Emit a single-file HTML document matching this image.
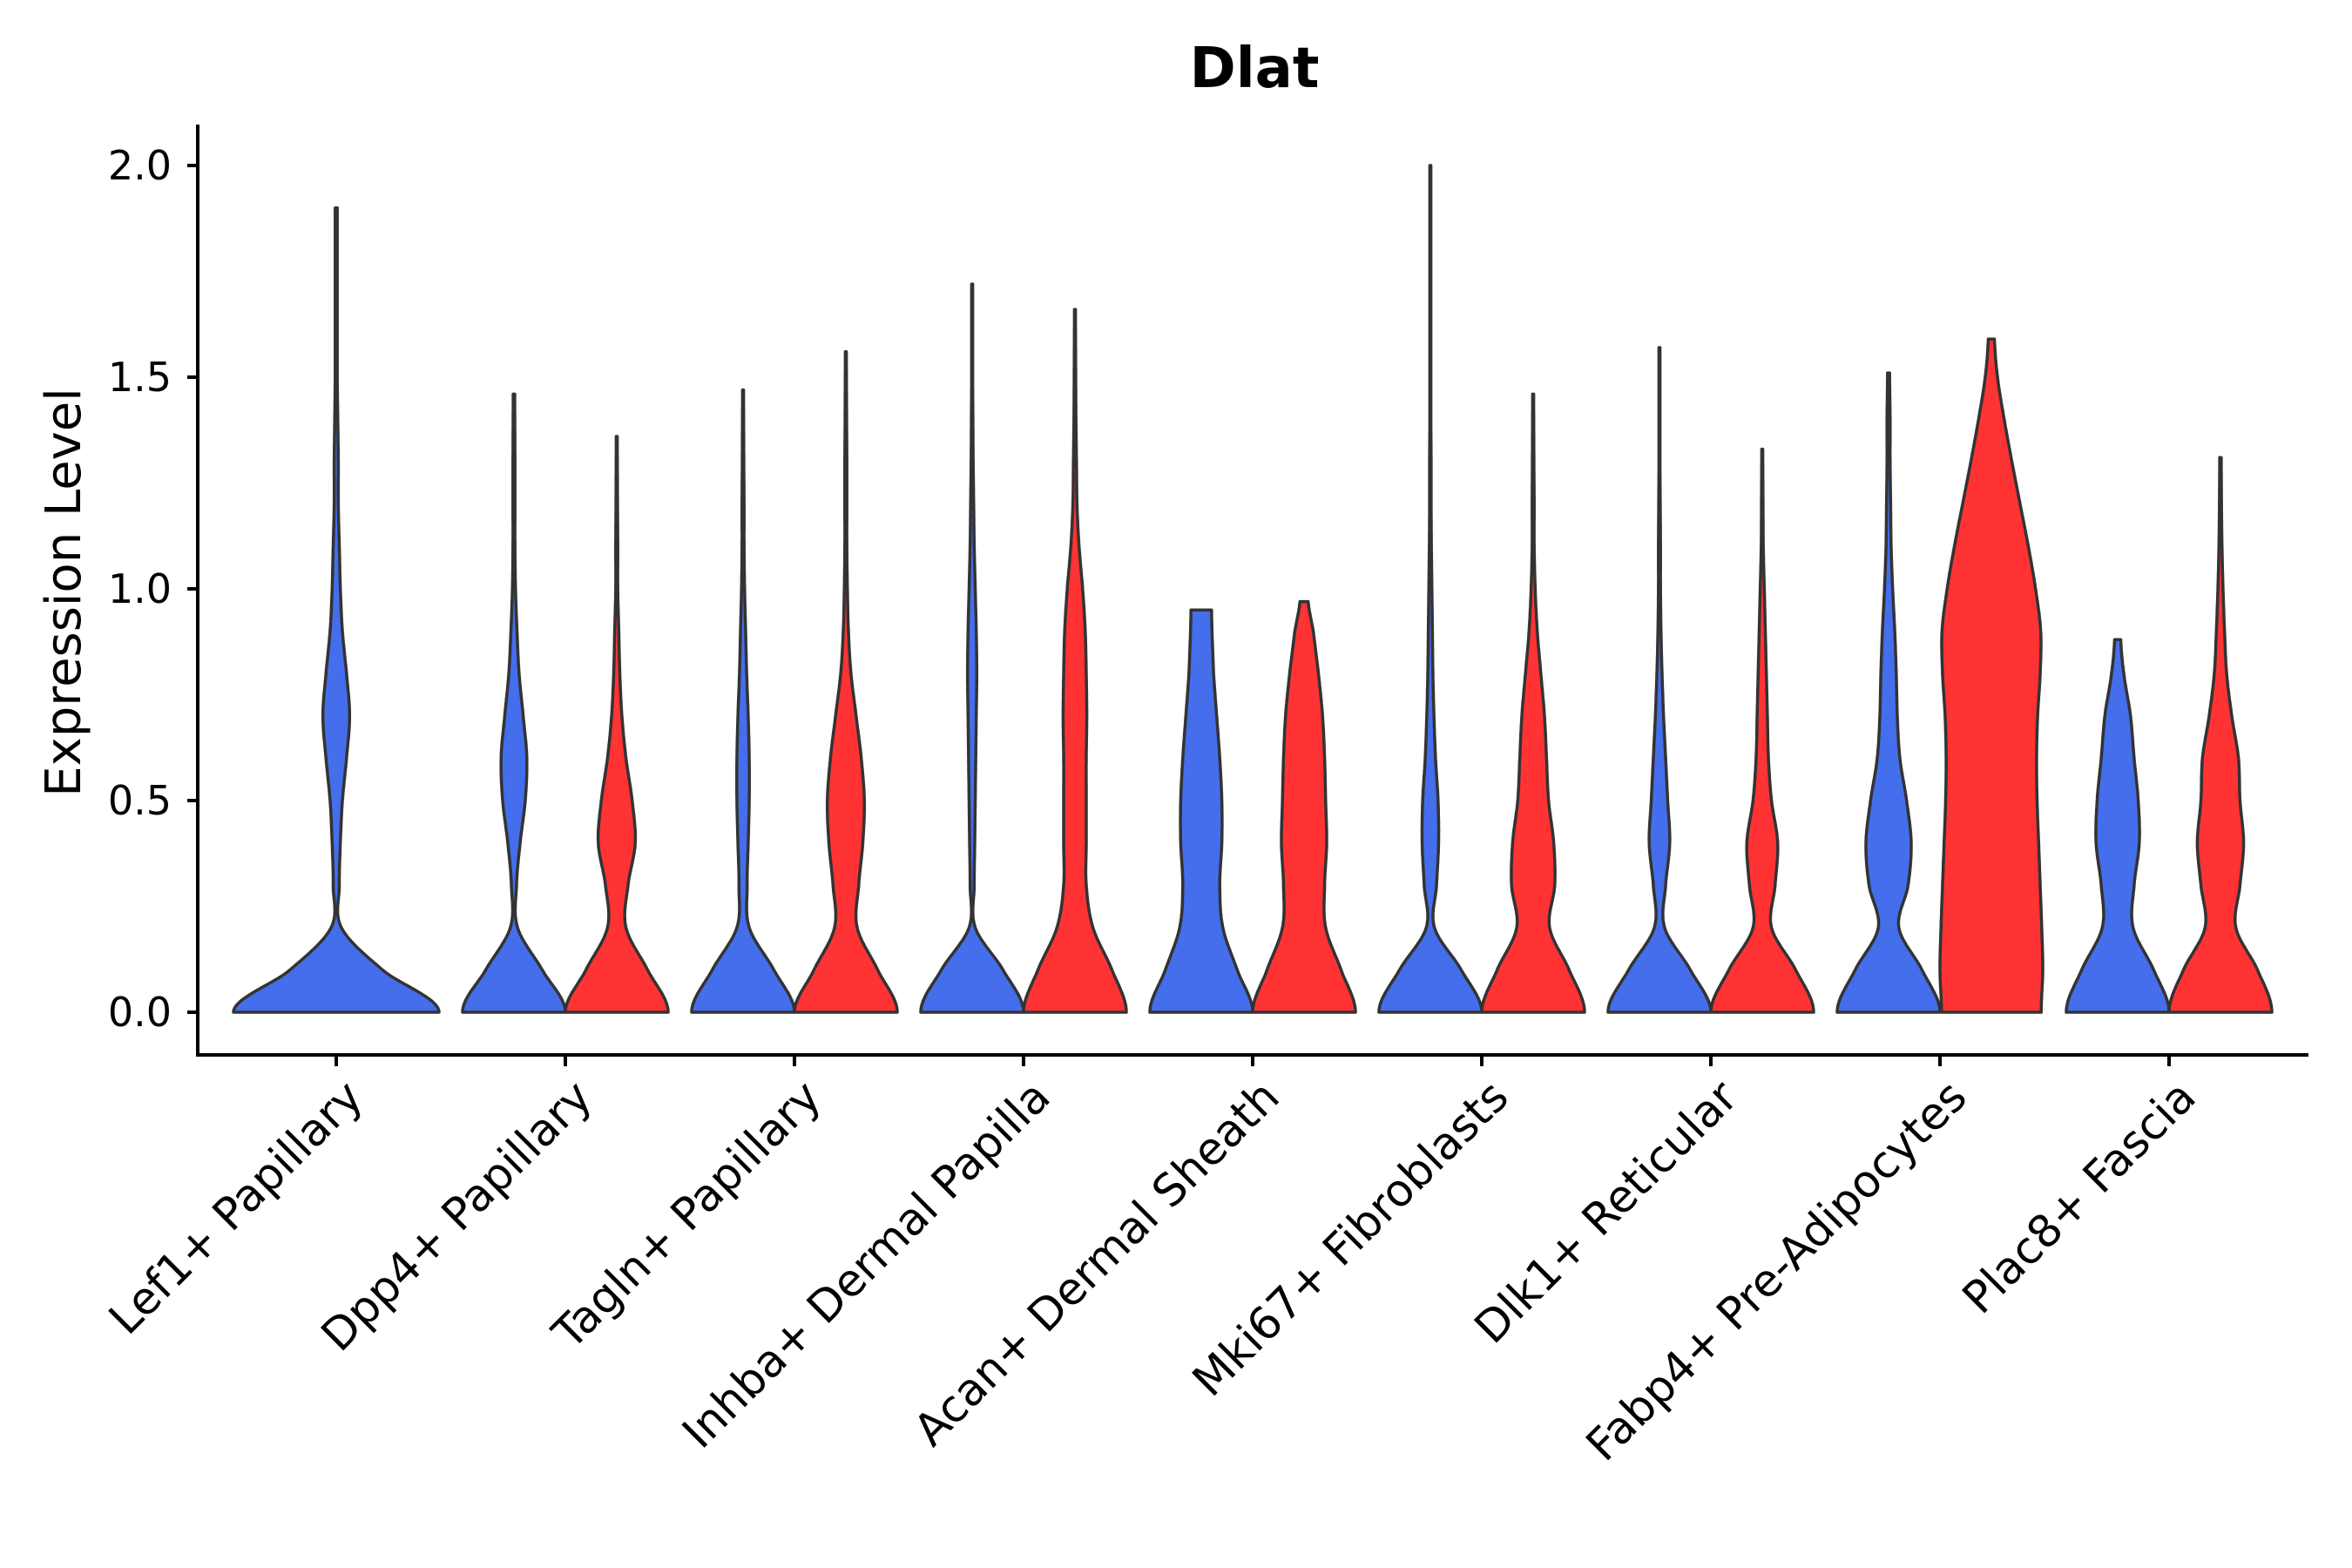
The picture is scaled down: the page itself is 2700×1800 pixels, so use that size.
<!DOCTYPE html>
<html><head><meta charset="utf-8"><style>
html,body{margin:0;padding:0;background:#fff;}
svg{display:block;font-family:"DejaVu Sans","Liberation Sans",sans-serif;}
</style></head><body>
<svg id="chart" width="2700" height="1800" viewBox="0 0 2700 1800">
<text x="1440" y="100" text-anchor="middle" font-size="64" font-weight="bold">Dlat</text>
<text transform="translate(92,680) rotate(-90)" text-anchor="middle" font-size="56">Expression Level</text>
<g id="violins"></g>
<g id="axes"></g>
</svg>
<script>
const categories = ["Lef1+ Papillary","Dpp4+ Papillary","Tagln+ Papillary","Inhba+ Dermal Papilla","Acan+ Dermal Sheath","Mki67+ Fibroblasts","Dlk1+ Reticular","Fabp4+ Pre-Adipocytes","Plac8+ Fascia"];
const yTicks = [0, 0.5, 1.0, 1.5, 2.0];
const yTickLabels = ["0.0","0.5","1.0","1.5","2.0"];
// max expression per violin (blue / red); null = group absent
const blueMax = [1.90, 1.46, 1.47, 1.72, 0.95, 2.00, 1.57, 1.51, 0.88];
const redMax  = [null, 1.36, 1.56, 1.66, 0.97, 1.46, 1.33, 1.59, 1.31];
// density width profiles (fraction of max width) sampled every 0.1, last entry at max
const blueDensity = [
 [1,0.45,0.05,0.03,0.04,0.06,0.10,0.13,0.10,0.06,0.04,0.03,0.02,0.02,0.015,0.01,0.01,0.01,0.01,0.01],
 [1,0.55,0.07,0.05,0.12,0.22,0.25,0.18,0.10,0.06,0.03,0.02,0.02,0.02,0.015],
 [1,0.6,0.12,0.08,0.10,0.12,0.12,0.10,0.07,0.05,0.03,0.02,0.02,0.015,0.01],
 [1,0.6,0.06,0.04,0.05,0.06,0.07,0.08,0.09,0.08,0.06,0.04,0.03,0.02,0.015,0.01,0.01,0.01],
 [1,0.7,0.42,0.36,0.40,0.40,0.36,0.30,0.24,0.20],
 [1,0.6,0.08,0.12,0.16,0.15,0.10,0.07,0.05,0.04,0.03,0.02,0.015,0.015,0.01,0.01,0.01,0.01,0.01,0.01,0.01],
 [1,0.6,0.10,0.12,0.20,0.16,0.12,0.08,0.05,0.03,0.02,0.02,0.015,0.01,0.01,0.01],
 [1,0.65,0.20,0.38,0.44,0.35,0.22,0.17,0.15,0.12,0.08,0.05,0.04,0.03,0.03,0.02],
 [1,0.7,0.30,0.32,0.42,0.40,0.32,0.25,0.12,0.06]
];
const redDensity = [
 null,
 [1,0.6,0.18,0.22,0.36,0.30,0.18,0.10,0.06,0.04,0.02,0.02,0.015,0.01],
 [1,0.62,0.22,0.25,0.33,0.36,0.30,0.20,0.10,0.05,0.03,0.02,0.02,0.02,0.015,0.01],
 [1,0.72,0.35,0.22,0.22,0.22,0.22,0.23,0.22,0.20,0.15,0.08,0.04,0.03,0.02,0.015,0.01],
 [1,0.72,0.42,0.40,0.44,0.42,0.40,0.36,0.28,0.18,0.08],
 [1,0.7,0.32,0.42,0.40,0.30,0.26,0.22,0.15,0.08,0.04,0.02,0.02,0.015,0.01],
 [1,0.65,0.18,0.25,0.30,0.18,0.12,0.10,0.08,0.06,0.04,0.02,0.015,0.01],
 [0.97,1.0,0.98,0.95,0.92,0.89,0.88,0.90,0.95,0.96,0.86,0.72,0.56,0.40,0.25,0.12,0.06],
 [1,0.72,0.30,0.38,0.45,0.38,0.35,0.22,0.12,0.08,0.05,0.03,0.02,0.015]
];

const NS = "http://www.w3.org/2000/svg";
const X0 = 227, X1 = 2650, Y0AX = 1211, YTOP = 143;
const groupStart = 386, groupStep = 263, halfW = 59;
function xScale(i){ return groupStart + i*groupStep; }
function yScale(v){ return 1162 - 486*v; }

function violinPath(cx, hw, prof, max){
  const pts = prof.map((w,i)=>[ i===prof.length-1 ? max : Math.min(i*0.1, max), w ]);
  const dense=[];
  for(let i=0;i<pts.length-1;i++){
    const p0=pts[Math.max(0,i-1)], p1=pts[i], p2=pts[i+1], p3=pts[Math.min(pts.length-1,i+2)];
    const m0 = (i===0) ? 0 : (p2[1]-p0[1])/2;
    const m1 = (p3[1]-p1[1])/2;
    for(let t=0;t<1;t+=0.05){
      const t2=t*t,t3=t2*t;
      const w = (2*t3-3*t2+1)*p1[1] + (t3-2*t2+t)*m0 + (-2*t3+3*t2)*p2[1] + (t3-t2)*m1;
      const v = p1[0] + t*(p2[0]-p1[0]);
      dense.push([v, Math.max(0.01,w)]);
    }
  }
  dense.push(pts[pts.length-1]);
  let d = "M"+(cx-hw*dense[0][1])+","+yScale(dense[0][0]);
  dense.forEach(p=>{ d+=" L"+(cx-hw*p[1]).toFixed(1)+","+yScale(p[0]).toFixed(1); });
  for(let i=dense.length-1;i>=0;i--){ const p=dense[i]; d+=" L"+(cx+hw*p[1]).toFixed(1)+","+yScale(p[0]).toFixed(1); }
  return d+" Z";
}

const vg = document.getElementById("violins");
categories.forEach((c,i)=>{
  const cx = xScale(i);
  const single = redMax[i]===null;
  const bcx = single ? cx : cx-halfW;
  const bhw = single ? 2*halfW : halfW;
  const b = document.createElementNS(NS,"path");
  b.setAttribute("d", violinPath(bcx,bhw,blueDensity[i],blueMax[i]));
  b.setAttribute("fill","#446EEB"); b.setAttribute("stroke","#333"); b.setAttribute("stroke-width","3.5"); b.setAttribute("stroke-linejoin","round");
  
  
  vg.appendChild(b);
  if(!single){
    const r = document.createElementNS(NS,"path");
    r.setAttribute("d", violinPath(cx+halfW,halfW,redDensity[i],redMax[i]));
    r.setAttribute("fill","#FF3333"); r.setAttribute("stroke","#333"); r.setAttribute("stroke-width","3.5"); r.setAttribute("stroke-linejoin","round");
    
    
    vg.appendChild(r);
  }
});

const ag = document.getElementById("axes");
function line(x1,y1,x2,y2,name){
  const l=document.createElementNS(NS,"line");
  l.setAttribute("x1",x1);l.setAttribute("y1",y1);l.setAttribute("x2",x2);l.setAttribute("y2",y2);
  l.setAttribute("stroke","#000");l.setAttribute("stroke-width","4");
  
  
  ag.appendChild(l);
}
line(X0,YTOP,X0,Y0AX+2,"y-axis-line");
line(X0-2,Y0AX,X1,Y0AX,"x-axis-line");
yTicks.forEach((v,i)=>{
  line(X0-12,yScale(v),X0,yScale(v),"y-tick");
  const t=document.createElementNS(NS,"text");
  t.setAttribute("x",X0-30); t.setAttribute("y",yScale(v)+16);
  t.setAttribute("text-anchor","end"); t.setAttribute("font-size","46");
  t.textContent=yTickLabels[i];
  
  
  ag.appendChild(t);
});
categories.forEach((c,i)=>{
  const x=xScale(i);
  line(x,Y0AX,x,Y0AX+13,"x-tick");
  const t=document.createElementNS(NS,"text");
  t.setAttribute("transform","translate("+(x+8)+","+(Y0AX+26)+") rotate(-45)");
  t.setAttribute("text-anchor","end"); t.setAttribute("font-size","51");
  t.setAttribute("dy","0.7em");
  t.textContent=c;
  
  
  ag.appendChild(t);
});
</script>
</body></html>
